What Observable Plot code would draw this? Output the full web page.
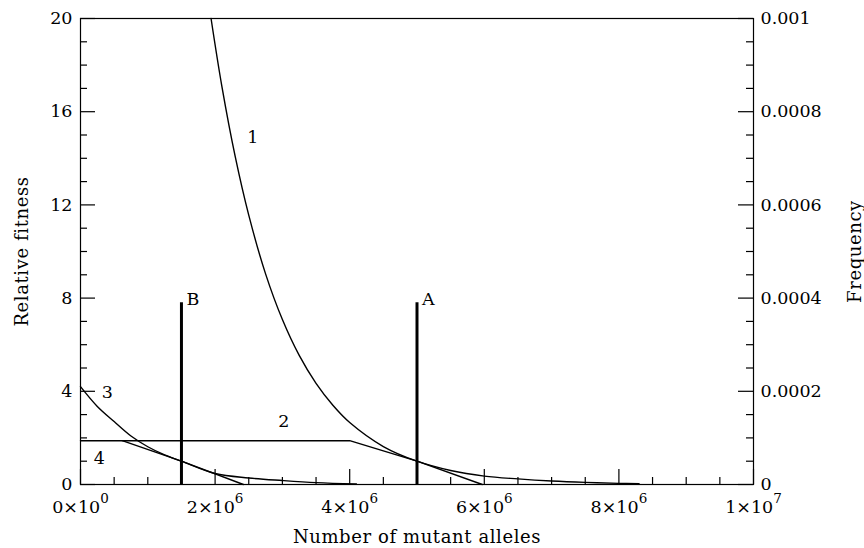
<!DOCTYPE html>
<html><head><meta charset="utf-8">
<script src="https://cdn.jsdelivr.net/npm/d3@7"></script>
<script src="https://cdn.jsdelivr.net/npm/@observablehq/plot@0.6"></script>
<style>
html,body{margin:0;padding:0;background:#fff;}
</style>
</head><body><div id="chart"></div>
<script>
// ---- data ----
// curve 1 (relative fitness)
const curve1X = [1.94e6, 2.1e6, 2.3e6, 2.5e6, 2.75e6, 3.0e6, 3.25e6, 3.5e6, 3.75e6, 4.0e6, 4.5e6, 5.0e6, 5.5e6, 6.0e6, 6.5e6, 7.0e6, 7.5e6, 8.0e6, 8.3e6];
const curve1Y = [20.0, 17.1, 14.06, 11.56, 9.04, 7.08, 5.54, 4.34, 3.40, 2.66, 1.63, 1.0, 0.60, 0.36, 0.24, 0.15, 0.09, 0.05, 0.03];
// curve 2
const curve2X = [0, 4.0e6, 5.0e6, 5.97e6];
const curve2Y = [1.88, 1.88, 1.0, 0];
// curve 3
const curve3X = [0, 0.25e6, 0.5e6, 0.75e6, 1.0e6, 1.25e6, 1.5e6, 2.0e6, 2.5e6, 3.0e6, 3.5e6, 4.1e6];
const curve3Y = [4.2, 3.35, 2.70, 2.08, 1.62, 1.27, 1.0, 0.47, 0.28, 0.17, 0.08, 0.02];
// curve 4
const curve4X = [0.62e6, 1.5e6, 2.42e6];
const curve4Y = [1.88, 1.0, 0];
// frequency spikes A and B
const spikeNames = ["B", "A"];
const spikeX = [1.5e6, 5.0e6];
const spikeFreq = [0.00039, 0.00039];
// curve number labels
const curveLabels = ["1", "2", "3", "4"];
const curveLabelX = [2.56e6, 3.02e6, 0.40e6, 0.28e6];
const curveLabelY = [14.9, 2.72, 3.96, 1.13];
// axes
const xTicks = [0, 2e6, 4e6, 6e6, 8e6, 1e7];
const xTickLabels = ["0×10^0", "2×10^6", "4×10^6", "6×10^6", "8×10^6", "1×10^7"];
const xMinorTicks = [5e5, 1e6, 1.5e6, 2.5e6, 3e6, 3.5e6, 4.5e6, 5e6, 5.5e6, 6.5e6, 7e6, 7.5e6, 8.5e6, 9e6, 9.5e6];
const fitnessTicks = [0, 4, 8, 12, 16, 20];
const fitnessMinorTicks = [1, 2, 3, 5, 6, 7, 9, 10, 11, 13, 14, 15, 17, 18, 19];
const freqTicks = [0, 0.0002, 0.0004, 0.0006, 0.0008, 0.001];
const freqTickLabels = ["0", "0.0002", "0.0004", "0.0006", "0.0008", "0.001"];
const fitnessPerFreq = 20 / 0.001;

const zip = (xs, ys) => xs.map((x, i) => ({x, y: ys[i]}));
const c1 = zip(curve1X, curve1Y), c2 = zip(curve2X, curve2Y), c3 = zip(curve3X, curve3Y), c4 = zip(curve4X, curve4Y);
const spikes = spikeNames.map((n, i) => ({name: n, x: spikeX[i], f: spikeFreq[i]}));
const labels = curveLabels.map((t, i) => ({t, x: curveLabelX[i], y: curveLabelY[i]}));

const W = 864, H = 548, mL = 80, mR = 111, mT = 18, mB = 64;
const innerW = W - mL - mR, innerH = H - mT - mB;
const majorLen = 15, minorLen = 7;
const titleStyle = {fill: "black", fontSize: 18, textAnchor: "middle", lineAnchor: "middle"};

const plot = Plot.plot({
  width: W, height: H,
  marginLeft: mL, marginRight: mR, marginTop: mT, marginBottom: mB,
  style: {fontFamily: "'DejaVu Serif', serif", fontSize: "17.5px", color: "black", background: "white"},
  x: {domain: [0, 1e7], axis: null},
  y: {domain: [0, 20], axis: null},
  marks: [
    // inward ticks
    Plot.tickX(xTicks, {x: d => d, insetTop: innerH - majorLen, stroke: "black", strokeWidth: 1.2}),
    Plot.tickX(xMinorTicks, {x: d => d, insetTop: innerH - minorLen, stroke: "black", strokeWidth: 1.2}),
    Plot.tickY(fitnessTicks, {y: d => d, insetRight: innerW - majorLen, stroke: "black", strokeWidth: 1.2}),
    Plot.tickY(fitnessMinorTicks, {y: d => d, insetRight: innerW - minorLen, stroke: "black", strokeWidth: 1.2}),
    Plot.tickY(freqTicks.map(f => f * fitnessPerFreq), {y: d => d, insetLeft: innerW - majorLen, stroke: "black", strokeWidth: 1.2}),
    Plot.tickY(fitnessMinorTicks, {y: d => d, insetLeft: innerW - minorLen, stroke: "black", strokeWidth: 1.2}),
    // tick labels
    Plot.axisX(xTicks, {anchor: "bottom", tickSize: 0, tickPadding: 16, tickFormat: d => xTickLabels[xTicks.indexOf(d)], label: null}),
    Plot.axisY(fitnessTicks, {anchor: "left", tickSize: 0, tickPadding: 8, label: null}),
    Plot.axisY(freqTicks.map(f => f * fitnessPerFreq), {anchor: "right", tickSize: 0, tickPadding: 7, label: null,
      tickFormat: d => freqTickLabels[freqTicks.findIndex(f => Math.abs(f * fitnessPerFreq - d) < 1e-9)]}),
    // axis titles
    Plot.text(["Relative fitness"], {frameAnchor: "left", dx: -58, rotate: -90, text: d => d, ...titleStyle}),
    Plot.text(["Frequency"], {frameAnchor: "right", dx: 102, rotate: -90, text: d => d, ...titleStyle}),
    Plot.text(["Number of mutant alleles"], {frameAnchor: "bottom", dy: 53, text: d => d, ...titleStyle}),
    // curves
    Plot.line(c1, {x: "x", y: "y", curve: "catmull-rom", stroke: "black", strokeWidth: 1.4}),
    Plot.line(c2, {x: "x", y: "y", stroke: "black", strokeWidth: 1.4}),
    Plot.line(c3, {x: "x", y: "y", curve: "catmull-rom", stroke: "black", strokeWidth: 1.4}),
    Plot.line(c4, {x: "x", y: "y", stroke: "black", strokeWidth: 1.4}),
    // spikes
    Plot.ruleX(spikes, {x: "x", y1: 0, y2: d => d.f * fitnessPerFreq, stroke: "black", strokeWidth: 3}),
    Plot.text(spikes, {x: "x", y: d => d.f * fitnessPerFreq, text: "name", dx: 5, dy: -3, textAnchor: "start", fill: "black"}),
    // curve labels
    Plot.text(labels, {x: "x", y: "y", text: "t", fill: "black"}),
    Plot.frame({stroke: "black", strokeWidth: 1.2})
  ]
});

// superscripts in x tick labels
const ns = "http://www.w3.org/2000/svg";
plot.querySelectorAll("text").forEach(t => {
  const s = t.textContent;
  if (s.includes("^")) {
    const [base, exp] = s.split("^");
    t.textContent = "";
    const t1 = document.createElementNS(ns, "tspan");
    t1.textContent = base;
    const t2 = document.createElementNS(ns, "tspan");
    t2.setAttribute("dy", "-10");
    t2.setAttribute("font-size", "13.5");
    t2.textContent = exp;
    t.append(t1, t2);
  }
});
// slightly wider spacing on the axis titles, as in the reference typeface
plot.querySelectorAll("text").forEach(t => {
  if (["Relative fitness", "Frequency", "Number of mutant alleles"].includes(t.textContent)) t.setAttribute("letter-spacing", "0.6");
});
document.getElementById("chart").append(plot);
</script>
</body></html>
